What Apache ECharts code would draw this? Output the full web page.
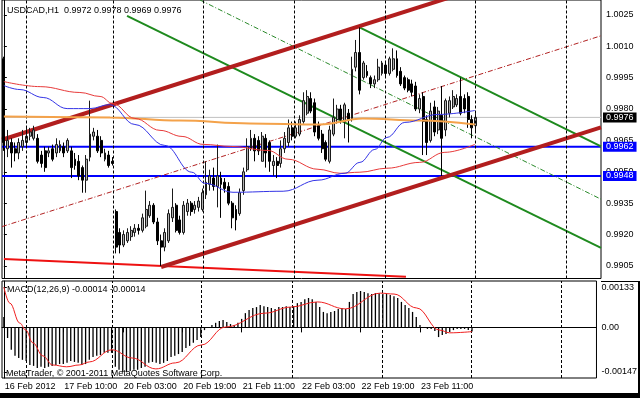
<!DOCTYPE html>
<html><head><meta charset="utf-8">
<script src="https://cdn.jsdelivr.net/npm/echarts@6/dist/echarts.min.js"></script>
<style>html,body{margin:0;padding:0;background:#fff}#c{width:640px;height:398px}</style>
</head><body><div id="c"></div>
<script>
// ---------- data ----------
const timeLabels = ['16 Feb 2012','17 Feb 10:00','20 Feb 03:00','20 Feb 19:00','21 Feb 11:00','22 Feb 03:00','22 Feb 19:00','23 Feb 11:00'];
const labelStep = 16;
const slotCount = 160;
const priceTicks = [0.9905,0.9920,0.9935,0.9950,0.9965,0.9980,0.9995,1.0010,1.0025];
const macdTicks = [-0.00147, 0, 0.00133];
const title = 'USDCAD,H1  0.9972 0.9978 0.9969 0.9976';
const macdTitle = 'MACD(12,26,9) -0.00014 -0.00014';
const copyright = 'MetaTrader, \u00A9 2001-2011 MetaQuotes Software Corp.';

// candles: [open, close, low, high]
const candles = [
[1.0004,0.9964,0.9960,1.0005],[0.9961,0.9965,0.9957,0.9970],[0.9964,0.9959,0.9952,0.9966],[0.9961,0.9959,0.9955,0.9964],
[0.9959,0.9964,0.9956,0.9966],[0.9962,0.9965,0.9960,0.9970],[0.9964,0.9967,0.9962,0.9971],[0.9967,0.9969,0.9965,0.9971],
[0.9966,0.9970,0.9965,0.9972],[0.9966,0.9955,0.9954,0.9968],[0.9958,0.9954,0.9952,0.9960],[0.9960,0.9952,0.9950,0.9962],
[0.9959,0.9960,0.9957,0.9962],[0.9961,0.9956,0.9955,0.9963],[0.9959,0.9963,0.9957,0.9966],[0.9960,0.9963,0.9959,0.9965],
[0.9962,0.9959,0.9957,0.9964],[0.9960,0.9965,0.9959,0.9966],[0.9960,0.9952,0.9947,0.9962],[0.9956,0.9953,0.9951,0.9959],
[0.9955,0.9948,0.9946,0.9958],[0.9952,0.9946,0.9940,0.9953],[0.9946,0.9956,0.9940,0.9958],[0.9957,0.9968,0.9955,0.9984],
[0.9967,0.9969,0.9965,0.9971],[0.9967,0.9960,0.9959,0.9970],[0.9965,0.9959,0.9957,0.9967],[0.9956,0.9959,0.9955,0.9961],
[0.9958,0.9953,0.9952,0.9960],[0.9955,0.9954,0.9953,0.9957],
[0.9931,0.9914,0.9911,0.9932],[0.9921,0.9915,0.9911,0.9923],[0.9915,0.9920,0.9914,0.9922],[0.9917,0.9921,0.9916,0.9923],
[0.9919,0.9922,0.9917,0.9924],[0.9921,0.9923,0.9919,0.9925],[0.9923,0.9922,0.9920,0.9925],[0.9922,0.9928,0.9921,0.9930],
[0.9924,0.9932,0.9923,0.9941],[0.9929,0.9934,0.9928,0.9936],[0.9934,0.9926,0.9925,0.9935],[0.9926,0.9917,0.9915,0.9928],
[0.9917,0.9914,0.9905,0.9920],[0.9914,0.9921,0.9912,0.9923],[0.9917,0.9930,0.9916,0.9932],[0.9928,0.9933,0.9926,0.9942],
[0.9934,0.9922,0.9921,0.9935],[0.9927,0.9921,0.9920,0.9929],[0.9921,0.9934,0.9920,0.9936],[0.9931,0.9935,0.9929,0.9937],
[0.9935,0.9931,0.9929,0.9936],[0.9932,0.9934,0.9930,0.9936],[0.9933,0.9936,0.9931,0.9938],[0.9932,0.9940,0.9931,0.9942],
[0.9939,0.9945,0.9937,0.9955],[0.9944,0.9948,0.9941,0.9951],[0.9947,0.9943,0.9941,0.9952],[0.9943,0.9948,0.9933,0.9963],
[0.9947,0.9944,0.9928,0.9950],[0.9945,0.9942,0.9940,0.9947],[0.9943,0.9935,0.9934,0.9945],[0.9935,0.9928,0.9923,0.9936],
[0.9932,0.9927,0.9922,0.9934],[0.9930,0.9940,0.9929,0.9942],[0.9941,0.9950,0.9939,0.9952],[0.9951,0.9962,0.9950,0.9966],
[0.9961,0.9966,0.9960,0.9970],[0.9966,0.9960,0.9955,0.9968],[0.9965,0.9960,0.9958,0.9967],[0.9955,0.9967,0.9955,0.9969],
[0.9966,0.9959,0.9952,0.9968],[0.9964,0.9955,0.9950,0.9965],[0.9953,0.9955,0.9948,0.9958],[0.9955,0.9953,0.9947,0.9957],
[0.9954,0.9961,0.9952,0.9965],[0.9961,0.9966,0.9959,0.9969],[0.9964,0.9971,0.9962,0.9975],[0.9971,0.9967,0.9965,0.9974],
[0.9967,0.9971,0.9966,0.9974],[0.9968,0.9975,0.9967,0.9977],[0.9974,0.9984,0.9973,0.9988],[0.9978,0.9986,0.9977,0.9989],
[0.9985,0.9979,0.9978,0.9988],[0.9983,0.9969,0.9967,0.9985],[0.9972,0.9966,0.9965,0.9974],[0.9968,0.9961,0.9959,0.9970],
[0.9964,0.9956,0.9955,0.9965],[0.9955,0.9970,0.9954,0.9972],[0.9968,0.9976,0.9967,0.9985],[0.9975,0.9980,0.9973,0.9982],
[0.9980,0.9975,0.9973,0.9982],[0.9974,0.9982,0.9966,0.9983],[0.9978,0.9975,0.9964,0.9980],[0.9975,0.9999,0.9974,1.0005],
[1.0000,1.0007,0.9998,1.0013],[1.0007,0.9989,0.9987,1.0019],[0.9995,1.0002,0.9994,1.0003],[0.9998,0.9996,0.9995,1.0001],
[0.9995,0.9992,0.9990,0.9996],[0.9992,0.9994,0.9990,0.9996],[0.9994,1.0000,0.9993,1.0004],[0.9997,1.0002,0.9996,1.0003],
[1.0001,0.9997,0.9995,1.0003],[0.9997,1.0004,0.9996,1.0005],[0.9999,1.0004,0.9998,1.0009],[1.0004,0.9996,0.9995,1.0008],
[0.9998,0.9992,0.9991,1.0000],[0.9995,0.9990,0.9989,0.9996],[0.9994,0.9989,0.9988,0.9995],[0.9992,0.9988,0.9986,0.9994],
[0.9991,0.9980,0.9979,0.9993],[0.9980,0.9985,0.9978,0.9987],[0.9986,0.9974,0.9958,0.9988],[0.9975,0.9964,0.9958,0.9977],
[0.9965,0.9979,0.9964,0.9983],[0.9981,0.9969,0.9967,0.9984],[0.9970,0.9979,0.9968,0.9981],[0.9977,0.9966,0.9948,0.9991],
[0.9970,0.9984,0.9967,0.9985],[0.9978,0.9984,0.9976,0.9986],[0.9981,0.9986,0.9980,0.9989],[0.9982,0.9985,0.9981,0.9987],
[0.9986,0.9978,0.9977,0.9995],[0.9985,0.9980,0.9978,0.9987],[0.9986,0.9975,0.9971,0.9988],[0.9975,0.9971,0.9966,0.9977],
[0.9972,0.9976,0.9969,0.9978]
];

const macdHist = [
0.00034,-0.00035,-0.00074,-0.00094,-0.00101,-0.00107,-0.00111,-0.00124,-0.00127,-0.00134,
-0.00130,-0.00134,-0.00130,-0.00127,-0.00124,-0.00121,-0.00121,-0.00117,-0.00111,-0.00114,
-0.00117,-0.00124,-0.00121,-0.00107,-0.00098,-0.00094,-0.00091,-0.00084,-0.00084,-0.00084,
-0.00130,-0.00140,-0.00147,-0.00147,-0.00144,-0.00140,-0.00140,-0.00134,-0.00130,-0.00117,
-0.00114,-0.00117,-0.00121,-0.00117,-0.00111,-0.00098,-0.00094,-0.00088,-0.00081,-0.00068,
-0.00061,-0.00051,-0.00042,-0.00032,-0.00009,0.00001,0.00008,0.00015,0.00021,0.00024,
0.00018,0.00011,0.00008,0.00015,0.00028,0.00047,0.00057,0.00064,0.00067,0.00074,
0.00070,0.00067,0.00064,0.00061,0.00067,0.00067,0.00070,0.00067,0.00070,0.00080,
0.00084,0.00093,0.00097,0.00093,0.00084,0.00067,0.00051,0.00047,0.00051,0.00054,
0.00061,0.00064,0.00061,0.00084,0.00110,0.00117,0.00120,0.00117,0.00113,0.00110,
0.00113,0.00113,0.00110,0.00110,0.00107,0.00103,0.00097,0.00084,0.00074,0.00064,
0.00051,0.00034,0.00008,0.00001,-0.00005,-0.00005,-0.00012,-0.00032,-0.00025,-0.00022,
-0.00015,-0.00009,-0.00005,-0.00005,-0.00005,-0.00009,-0.00014
];

// [bar index, value] points
const macdSignal = [[0,0.00133],[1.6,0.00080],[4.3,0.00014],[5.9,-0.00009],[7.8,-0.00051],[10.5,-0.00094],[13.1,-0.00124],
[16.9,-0.00130],[20.3,-0.00124],[23,-0.00114],[29.1,-0.00074],[34.5,-0.00101],[40.9,-0.00137],[46.2,-0.00117],
[53.2,-0.00058],[59.6,0.00001],[70.3,0.00047],[77.2,0.00067],[84.4,0.00084],[91.9,0.00061],[101.3,0.00113],
[105,0.00110],[111.1,0.00064],[117.3,-0.00009],[120,-0.00018],[126,-0.00014]];

const maRed = [[0,0.99931],[9.7,0.99907],[20.3,0.99879],[25.7,0.99860],[29.1,0.99826],[35,0.99755],[41.7,0.99698],
[47.6,0.99669],[53.2,0.99631],[60.9,0.99621],[70.5,0.99602],[75.9,0.99560],[83.9,0.99512],[89.8,0.99493],
[95.1,0.99498],[102.3,0.99517],[111.1,0.99545],[117.8,0.99593],[125.8,0.99631]];
const maBlue = [[0,0.99912],[4.3,0.99893],[10.5,0.99855],[16.9,0.99802],[23,0.99802],[28.3,0.99821],[35,0.99726],
[43,0.99626],[50.2,0.99498],[53.7,0.99445],[61.2,0.99402],[74.6,0.99407],[83.9,0.99460],[91.1,0.99493],
[95.1,0.99545],[99.1,0.99607],[102.3,0.99664],[107.1,0.99736],[116,0.99774],[125.8,0.99793]];
const maOrange = [[0,0.99764],[28.4,0.99760],[47,0.99745],[65.7,0.99731],[84.4,0.99726],[95.9,0.99755],[111.1,0.99745],[125.8,0.99726]];

const channelUpper = [[-0.5,0.99653],[159.5,1.00563]];
const channelMid = [[-0.5,0.99238],[159.5,1.00150]];
const channelLower = [[42,0.99045],[159.5,0.99712]];
const greenUpper = [[95,1.00190],[159.5,0.99621]];
const greenMid = [[52.4,1.00321],[159.5,0.99369]];
const greenLower = [[32.9,1.00245],[159.5,0.99136]];
const redFloor = [[0,0.99083],[107.4,0.98998]];

const levels = [0.9962, 0.9948];
const lastPrice = 0.9976;
const separators = [5.91, 29.15, 53.19, 77.49, 101.8, 125.8, 150.1];

// ---------- chart ----------
const FONT = '"Liberation Sans", Arial, sans-serif';
const cats = Array.from({length: slotCount}, (_, i) => String(i));
const showLabel = (i) => i % labelStep === 0 && (i / labelStep) < timeLabels.length;

function lineSeries(data, xi, yi, color, width, type, z, smooth) {
  return { type: 'line', xAxisIndex: xi, yAxisIndex: yi, data: data, showSymbol: false, symbol: 'none',
    smooth: smooth || false, smoothMonotone: 'x', silent: true, z: z, clip: true,
    lineStyle: { color: color, width: width, type: type || 'solid' } };
}
const sepLine = (xi, yi) => ({ type: 'line', xAxisIndex: xi, yAxisIndex: yi, data: [], silent: true, z: 1,
  markLine: { symbol: ['none','none'], silent: true, animation: false, label: { show: false },
    lineStyle: { color: '#000', width: 1, type: [3,2] },
    data: separators.map(v => ({ xAxis: v })) } });
function levelSeries(v, color, width, boxColor, z) {
  const s = lineSeries([[-0.5, v], [slotCount - 0.5, v]], 1, 0, color, width, 'solid', z);
  s.endLabel = { show: true, formatter: v.toFixed(4), color: '#fff', backgroundColor: boxColor,
    padding: [1,3,0,3], fontSize: 9, fontFamily: FONT, distance: 2, align: 'left', verticalAlign: 'middle' };
  return s;
}

const chart = echarts.init(document.getElementById('c'), null, { renderer: 'canvas' });
chart.setOption({
  animation: false,
  backgroundColor: '#fff',
  textStyle: { fontFamily: FONT },
  grid: [
    { left: 2, right: 39, top: -1, height: 279.5, show: true, borderColor: '#000', borderWidth: 1, backgroundColor: '#fff' },
    { left: 2, right: 39, top: 281, height: 97, show: true, borderColor: '#000', borderWidth: 1, backgroundColor: '#fff' }
  ],
  xAxis: [
    { type: 'category', gridIndex: 0, data: cats, boundaryGap: true, show: false },
    { type: 'value', gridIndex: 0, min: -0.5, max: slotCount - 0.5, show: false },
    { type: 'category', gridIndex: 1, data: cats, boundaryGap: true, position: 'bottom',
      axisLine: { show: true, lineStyle: { color: '#000' } },
      axisTick: { show: true, interval: (i) => showLabel(i), alignWithLabel: true, length: 5, lineStyle: { color: '#000' } },
      axisLabel: { show: true, interval: (i) => showLabel(i), formatter: (v, i) => timeLabels[i / labelStep] || '',
        align: 'left', margin: 4, padding: [0,0,0,1], color: '#000', fontSize: 9, fontFamily: FONT },
      splitLine: { show: false } },
    { type: 'value', gridIndex: 1, min: -0.5, max: slotCount - 0.5, show: false }
  ],
  yAxis: [
    { type: 'value', gridIndex: 0, position: 'right', min: 0.98990, max: 1.00321,
      axisLine: { show: true, lineStyle: { color: '#000' } },
      axisTick: { show: true, customValues: priceTicks, length: 3, lineStyle: { color: '#000' } },
      axisLabel: { show: true, customValues: priceTicks, formatter: (v) => v.toFixed(4), margin: 5,
        color: '#000', fontSize: 9, fontFamily: FONT },
      splitLine: { show: false } },
    { type: 'value', gridIndex: 1, position: 'right', min: -0.00167, max: 0.00153,
      axisLine: { show: true, lineStyle: { color: '#000' } },
      axisTick: { show: true, customValues: macdTicks, length: 3, lineStyle: { color: '#000' } },
      axisLabel: { show: true, customValues: macdTicks, formatter: (v) => v === 0 ? '0.00' : v.toFixed(5), margin: 5,
        color: '#000', fontSize: 9, fontFamily: FONT },
      splitLine: { show: false } }
  ],
  series: [
    sepLine(1, 0),
    sepLine(3, 1),
    levelSeries(lastPrice, '#c0c0c0', 1, '#000', 2),
    levelSeries(levels[0], '#0000ff', 2, '#0000ff', 2),
    levelSeries(levels[1], '#0000ff', 2, '#0000ff', 2),
    lineSeries(redFloor, 1, 0, '#ee1111', 2, 'solid', 3),
    lineSeries(channelMid, 1, 0, '#b22222', 1, [5,2,1,2], 3),
    lineSeries(greenMid, 1, 0, '#2a8a2a', 1, [5,2,1,2], 3),
    lineSeries(greenUpper, 1, 0, '#1e8a1e', 2, 'solid', 3),
    lineSeries(greenLower, 1, 0, '#1e8a1e', 2, 'solid', 3),
    lineSeries(channelUpper, 1, 0, '#b21e1e', 4, 'solid', 3),
    lineSeries(channelLower, 1, 0, '#b21e1e', 4, 'solid', 3),
    { type: 'candlestick', xAxisIndex: 0, yAxisIndex: 0, data: candles, barWidth: 2.4, z: 4, silent: true,
      itemStyle: { color: '#b0b0b0', color0: '#000', borderColor: '#1a1a1a', borderColor0: '#000', borderWidth: 1 } },
    lineSeries(maOrange, 1, 0, '#f4a24a', 2, 'solid', 5, 0.4),
    lineSeries(maRed, 1, 0, '#e83a3a', 1, 'solid', 5, 0.4),
    lineSeries(maBlue, 1, 0, '#3434e6', 1, 'solid', 5, 0.4),
    { type: 'bar', xAxisIndex: 2, yAxisIndex: 1, data: macdHist, barWidth: 1.3, silent: true, z: 3,
      itemStyle: { color: '#000' } },
    lineSeries(macdSignal, 3, 1, '#f02020', 1, 'solid', 5, 0.4)
  ],
  graphic: [
    { type: 'text', x: 7, y: 10.5, silent: true, style: { text: title, fill: '#000', font: '9px ' + FONT, verticalAlign: 'middle' } },
    { type: 'text', x: 7, y: 290, silent: true, style: { text: macdTitle, fill: '#000', font: '9px ' + FONT, verticalAlign: 'middle' } },
    { type: 'text', x: 6, y: 373.5, silent: true, style: { text: copyright, fill: '#000', font: '9px ' + FONT, verticalAlign: 'middle' } },
    { type: 'line', silent: true, shape: { x1: 601, y1: 281.5, x2: 640, y2: 281.5 }, style: { stroke: '#000', lineWidth: 1 } },
    { type: 'rect', silent: true, shape: { x: 638, y: 281, width: 2, height: 117 }, style: { fill: '#000' } },
    { type: 'rect', silent: true, shape: { x: 0, y: 393, width: 640, height: 5 }, style: { fill: '#000' } }
  ]
});
</script>
</body></html>
